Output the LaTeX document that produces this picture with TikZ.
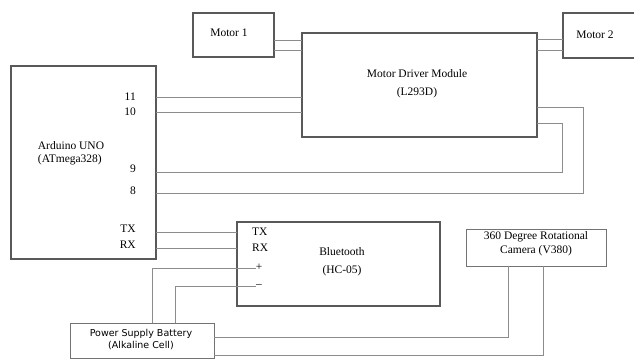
\documentclass[tikz,border=0pt]{standalone}
\usepackage{fontspec}
\setmainfont{Liberation Serif}
\newfontfamily\psbfont{DejaVu Sans}
\begin{document}
\begin{tikzpicture}[x=1pt,y=-1pt,
  box/.style={draw=black!65, line width=1.6pt, outer sep=0pt, inner sep=0pt, anchor=north west},
  thinbox/.style={draw=black!55, line width=0.9pt, outer sep=0pt, inner sep=0pt, anchor=north west},
  wire/.style={draw=black!45, line width=0.9pt},
  lbl/.style={font=\fontsize{11.5}{13.5}\selectfont, inner sep=0pt, align=center},
  pin/.style={font=\fontsize{11.5}{13.5}\selectfont, inner sep=0pt}]
\useasboundingbox (0,0) rectangle (634,360);
% boxes
\node[box, minimum width=145pt, minimum height=193pt] (ard) at (11,66) {};
\node[box, minimum width=81pt, minimum height=44pt] (m1) at (193,13) {};
\node[box, minimum width=235pt, minimum height=104pt] (mdm) at (302,33) {};
\node[box, minimum width=80pt, minimum height=45pt] (m2) at (563,13) {};
\node[box, minimum width=203pt, minimum height=84pt] (bt) at (237,222) {};
\node[thinbox, minimum width=140pt, minimum height=37pt] (cam) at (466,229) {};
\node[thinbox, minimum width=144pt, minimum height=35pt] (psb) at (70,323) {};
% texts
\node[lbl, align=left] (ardt) at (71,153) {Arduino UNO\\(ATmega328)};
\node[lbl] (m1t) at (229,33) {Motor 1};
\node[lbl] (m2t) at (595,35) {Motor 2};
\node[lbl] (mdmt1) at (417,74) {Motor Driver Module};
\node[lbl] (mdmt2) at (417,93) {(L293D)};
\node[lbl] (btt1) at (342,252) {Bluetooth};
\node[lbl] (btt2) at (342,271) {(HC-05)};
\node[lbl] (camt) at (536,243.5) {360 Degree Rotational\\Camera (V380)};
\node[lbl, font=\psbfont\fontsize{9.5}{12.5}\selectfont] (psbt) at (141,339.5) {Power Supply Battery\\(Alkaline Cell)};
% Arduino pins
\node[pin, anchor=east] (a11) at (136,97) {11};
\node[pin, anchor=east] (a10) at (136,112) {10};
\node[pin, anchor=east] (a9) at (136,169) {9};
\node[pin, anchor=east] (a8) at (136,191) {8};
\node[pin, anchor=east] (atx) at (136,229) {TX};
\node[pin, anchor=east] (arx) at (136,245) {RX};
% Bluetooth pins
\node[pin, anchor=west] (btx) at (252,232) {TX};
\node[pin, anchor=west] (brx) at (252,248) {RX};
\node[pin] (bplus) at (259,267) {+};
\node[pin] (bminus) at (259,286) {--};
% bend coordinates
\coordinate (c9) at (562,172);
\coordinate (c8) at (583,193);
\coordinate (cp) at (152,268);
\coordinate (cm) at (175,286);
\coordinate (k1) at (508,337);
\coordinate (k2) at (543,355);
% wires
\draw[wire] (m1.east |- 0,40) -- (mdm.west |- 0,40);
\draw[wire] (m1.east |- 0,50) -- (mdm.west |- 0,50);
\draw[wire] (mdm.east |- 0,39) -- (m2.west |- 0,39);
\draw[wire] (mdm.east |- 0,50) -- (m2.west |- 0,50);
\draw[wire] (ard.east |- 0,97) -- (mdm.west |- 0,97);
\draw[wire] (ard.east |- 0,112) -- (mdm.west |- 0,112);
\draw[wire] (ard.east |- c9) -- (c9) -- (c9 |- 0,123) -- (mdm.east |- 0,123);
\draw[wire] (ard.east |- c8) -- (c8) -- (c8 |- 0,107) -- (mdm.east |- 0,107);
\draw[wire] (ard.east |- 0,232) -- (bt.west |- 0,232);
\draw[wire] (ard.east |- 0,248) -- (bt.west |- 0,248);
\draw[wire] (psb.north -| cp) -- (cp) -- (bplus.west |- cp);
\draw[wire] (psb.north -| cm) -- (cm) -- (bminus.west |- cm);
\draw[wire] (cam.south -| k1) -- (k1) -- (psb.east |- k1);
\draw[wire] (cam.south -| k2) -- (k2) -- (psb.east |- k2);
\end{tikzpicture}
\end{document}
